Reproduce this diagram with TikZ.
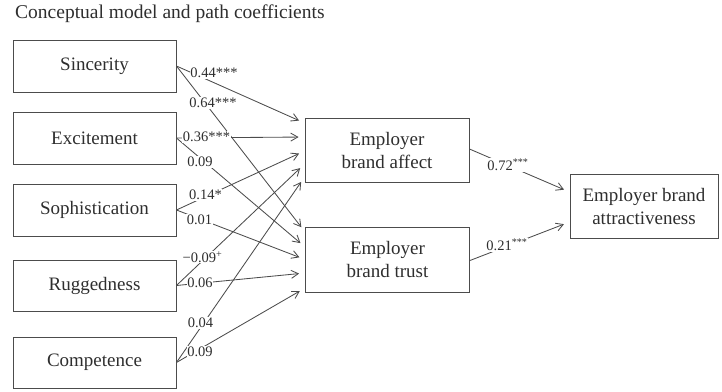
\documentclass[tikz,border=0pt]{standalone}
\usepackage{fontspec}
\setmainfont{Liberation Serif}
\usetikzlibrary{arrows.meta,calc}
\definecolor{txt}{HTML}{2E2E2E}
\definecolor{ln}{HTML}{4C4C4C}
\begin{document}
\begin{tikzpicture}[x=1bp,y=1bp,
  box/.style={draw=ln,line width=0.9pt,minimum width=163bp,minimum height=52bp,inner sep=0pt,text=txt,font=\fontsize{19bp}{23bp}\selectfont,align=center},
  lbl/.style={fill=white,inner sep=0.6bp,text=txt,font=\fontsize{14.5bp}{17bp}\selectfont},
  path/.style={draw=ln,line width=0.85pt,-{Straight Barb[length=7bp,width=8bp,line width=0.85pt]},shorten >=6bp}]
\useasboundingbox (0,0) rectangle (722,391);
\node[anchor=west,text=txt,font=\fontsize{19.5bp}{23bp}\selectfont,inner sep=0pt] (title) at (15,377) {Conceptual model and path coefficients};
\node[box] (sinc) at (94.5,325) {Sincerity};
\node[box] (exc) at (94.5,253) {Excitement};
\node[box] (soph) at (94.5,181) {Sophistication};
\node[box,minimum height=51bp] (rugg) at (94.5,105.5) {Ruggedness};
\node[box,minimum height=51bp] (comp) at (94.5,28.5) {Competence};
\node[box,minimum width=164bp,minimum height=64bp] (aff) at (387,241) {Employer\\brand affect};
\node[box,minimum width=164bp,minimum height=65bp] (tru) at (387.5,131.5) {Employer\\brand trust};
\node[box,minimum width=148bp,minimum height=64bp] (att) at (644,185) {Employer brand\\attractiveness};
% paths to affect
\draw[path] (sinc.east) -- ([yshift=27bp]aff.west);
\draw[path] (exc.east) -- ([yshift=13bp]aff.west);
\draw[path] (soph.east) -- ([yshift=-1bp]aff.west);
\draw[path] (rugg.east) -- ([yshift=-14bp]aff.west);
\draw[path] (comp.east) -- ([yshift=-27bp]aff.west);
% paths to trust
\draw[path] (sinc.east) -- ([yshift=27.5bp]tru.west);
\draw[path] (exc.east) -- ([yshift=12.5bp]tru.west);
\draw[path] (soph.east) -- ([yshift=0bp]tru.west);
\draw[path] (rugg.east) -- ([yshift=-13.5bp]tru.west);
\draw[path] (comp.east) -- ([yshift=-28.5bp]tru.west);
% to attractiveness
\draw[path] ([yshift=1bp]aff.east) -- ([yshift=14bp]att.west);
\draw[path] ([yshift=-1bp]tru.east) -- ([yshift=-16bp]att.west);
% labels
\node[lbl] (l1) at (214,318) {0.44***};
\node[lbl] (l2) at (213,288) {0.64***};
\node[lbl] (l3) at (206.5,254) {0.36***};
\node[lbl] (l4) at (200,229) {0.09};
\node[lbl] (l5) at (205.5,196) {0.14*};
\node[lbl] (l6) at (199.5,171) {0.01};
\node[lbl] (l7) at (202.5,134) {−0.09\textsuperscript{+}};
\node[lbl] (l8) at (200,108) {0.06};
\node[lbl] (l9) at (200.5,68) {0.04};
\node[lbl] (l10) at (200,39) {0.09};
\node[lbl] (l11) at (508,226) {0.72\textsuperscript{***}};
\node[lbl] (l12) at (507,146) {0.21\textsuperscript{***}};
\end{tikzpicture}
\end{document}
